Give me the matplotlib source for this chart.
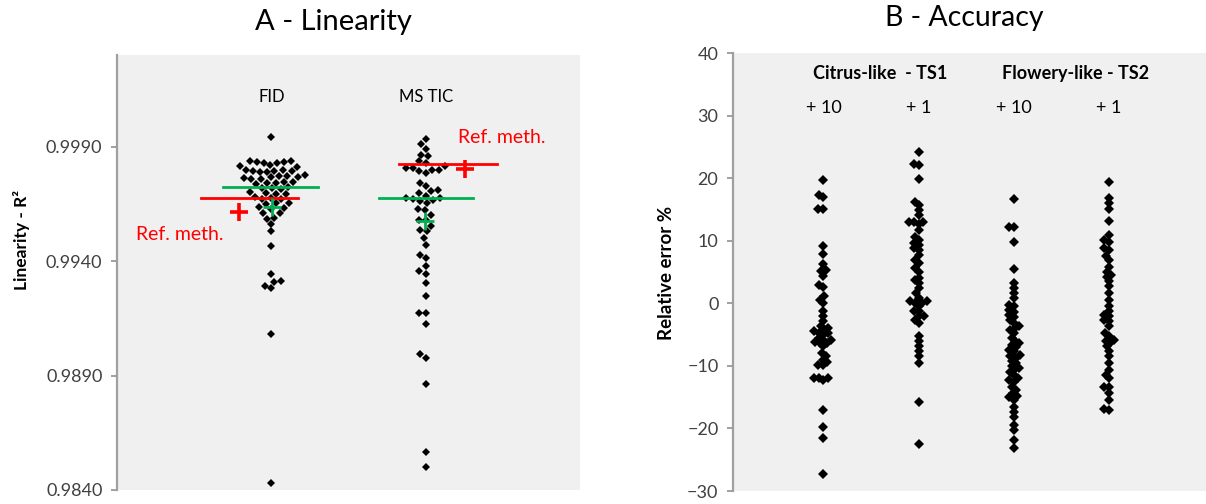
import numpy as np
import matplotlib
matplotlib.use('Agg')
import matplotlib.pyplot as plt

plt.rcParams['font.family'] = ['Lato', 'DejaVu Sans']

# --- data: panel A (linearity R2) ---
fid_r2 = [0.99941,
          0.99838, 0.99836, 0.99834, 0.99832, 0.99830, 0.99828,
          0.99818, 0.99815, 0.99812,
          0.99797, 0.99796, 0.99794, 0.99793, 0.99792, 0.99790, 0.99788,
          0.99775, 0.99772, 0.99770, 0.99766, 0.99765, 0.99762, 0.99760, 0.99758,
          0.99745, 0.99744, 0.99742, 0.99740, 0.99738,
          0.99722, 0.99720, 0.99718, 0.99716,
          0.99700, 0.99698, 0.99695, 0.99692,
          0.99678, 0.99675, 0.99672, 0.99670,
          0.99655, 0.99652, 0.99650,
          0.99635, 0.99632, 0.99628,
          0.99612, 0.99608,
          0.99590, 0.99585,
          0.99562, 0.99530, 0.99464,
          0.99342, 0.99315, 0.99310, 0.99290, 0.99282,
          0.99082, 0.98431]
mstic_r2 = [0.99934, 0.99913, 0.99890, 0.99865, 0.99858,
            0.99836, 0.99829, 0.99814, 0.99807, 0.99807, 0.99799, 0.99799, 0.99792, 0.99785,
            0.99741, 0.99726, 0.99712, 0.99705,
            0.99698, 0.99686, 0.99676, 0.99676, 0.99671, 0.99668, 0.99661, 0.99654,
            0.99627, 0.99624, 0.99603, 0.99581, 0.99581,
            0.99552, 0.99537, 0.99530, 0.99501, 0.99471,
            0.99428, 0.99413, 0.99377, 0.99355, 0.99345,
            0.99304, 0.99248, 0.99173, 0.99173, 0.99126,
            0.98995, 0.98976, 0.98865, 0.98567, 0.98502]
a_groups = ['FID', 'MS TIC']
a_green_line = [0.99725, 0.99677]   # green horizontal bars
a_red_line = [0.99677, 0.99826]     # red horizontal bars (Ref. meth.)
a_green_plus = [0.99638, 0.99576]
a_red_plus = [0.99616, 0.99800]

# --- data: panel B (relative error %) ---
citrus_10 = [19.7, 17.3, 17.0, 15.0, 15.0, 9.2, 7.9, 6.3, 5.3, 5.1, 4.4, 2.9, 2.6,
             1.1, 0.6, 0.0, -1.3, -2.1, -2.9, -3.6, -4.0, -4.3, -4.5, -4.7, -4.8,
             -5.1, -5.5, -5.9, -5.9, -6.2, -6.4, -6.4, -6.9, -8.0, -8.5, -9.1, -9.4,
             -9.9, -9.9, -12.0, -12.0, -12.0, -12.2, -17.0, -19.7, -21.5, -27.3]
citrus_1 = [24.2, 22.3, 22.1, 19.8, 16.2, 15.7, 14.9, 14.1, 13.0, 13.0, 13.0, 12.6,
            11.7, 10.6, 10.1, 9.6, 9.3, 8.8, 8.5, 7.7, 6.9, 6.4, 5.6, 5.0,
            4.0, 3.7, 3.2, 2.4, 1.6, 0.9, 0.3, 0.3, 0.0, 0.0, -0.5,
            -1.3, -1.3, -2.1, -2.1, -2.7, -3.2, -5.3, -6.1, -6.9, -7.7, -8.5, -9.6,
            -15.7, -22.5]
flowery_10 = [16.6, 12.2, 12.2, 9.8, 5.4, 3.2, 2.4, 1.6, 0.8, -0.3, -0.5, -1.1,
              -1.9, -2.7, -3.7, -4.0, -4.8, -6.1, -6.7, -7.5, -7.7, -8.3, -8.5, -8.8,
              -9.6, -10.4, -10.7, -11.5, -12.3, -12.5, -13.3, -14.4, -15.0, -15.4,
              -16.5, -18.1, -19.4, -20.2, -21.8, -23.2,
              -2.2, -5.5, -7.0, -9.2, -10.0, -11.0, -12.0, -13.8, -14.8, -6.4, -4.3,
              -1.4, -3.2, -17.3]
flowery_1 = [19.4, 16.8, 16.0, 15.0, 13.2, 10.9, 10.1, 8.8, 8.5, 6.9, 5.8, 5.0, 4.2,
             3.5, 2.7, 1.6, 0.5, -0.5, -1.3, -2.1, -2.7, -2.9, -3.7, -4.8, -5.3,
             -6.1, -6.4, -6.9, -8.5, -9.6, -10.7, -12.0, -13.3, -13.3, -14.4, -15.4,
             -17.0, -16.9, 9.8, 7.5, 4.6, -1.8, -5.8, -7.6, -11.4]
b_series = [citrus_10, citrus_1, flowery_10, flowery_1]
b_spikes = ['+ 10', '+ 1', '+ 10', '+ 1']
b_families = ['Citrus-like  - TS1', 'Flowery-like - TS2']

bg = '#f0f0f0'
axis_col = '#a0a0a0'
tick_col = '#404040'


def swarm(values, px_per_y, px_per_x, d=7.0):
    # simple beeswarm: place each point at the smallest offset without overlap
    ys = np.asarray(values) * px_per_y
    order = np.argsort(ys)
    placed = []
    xs = np.zeros(len(ys))
    for i in order:
        y = ys[i]
        near = [(px, py) for px, py in placed if abs(py - y) < d]
        cands = [0.0]
        for px, py in near:
            dx = np.sqrt(d * d - (py - y) ** 2)
            cands += [px + dx, px - dx]
        cands.sort(key=lambda c: (round(abs(c), 3), c))
        for c in cands:
            if all((c - px) ** 2 + (y - py) ** 2 >= d * d - 1e-6 for px, py in near):
                break
        xs[i] = c
        placed.append((c, y))
    return xs / px_per_x


def style_axis(ax):
    ax.set_facecolor(bg)
    for s in ['top', 'right', 'bottom']:
        ax.spines[s].set_visible(False)
    ax.spines['left'].set_color(axis_col)
    ax.spines['left'].set_linewidth(1.6)
    ax.tick_params(axis='y', direction='out', length=4.5, width=1.4, color=axis_col,
                   labelcolor=tick_col, labelsize=13, pad=6)
    ax.set_xticks([])


fig = plt.figure(figsize=(12.06, 5.04), dpi=100)

# ---------------- Panel A ----------------
axA = fig.add_axes([117 / 1206, 14 / 504, 463 / 1206, 435 / 504])
style_axis(axA)
a_ylim = (0.9840, 1.0030)
axA.set_xlim(0, 3)
axA.set_ylim(*a_ylim)
axA.set_yticks([0.9840, 0.9890, 0.9940, 0.9990])
axA.yaxis.set_major_formatter(matplotlib.ticker.FormatStrFormatter('%.4f'))

pyA = 435 / (a_ylim[1] - a_ylim[0])
pxA = 463 / 3
for i, vals in enumerate([fid_r2, mstic_r2]):
    xpos = i + 1 + swarm(vals, pyA, pxA, d=7.0)
    axA.plot(xpos, vals, 'D', color='black', ms=4.3, mew=0, zorder=3)
    axA.text(i + 1, 0.903, a_groups[i], transform=axA.get_xaxis_transform(),
             ha='center', va='center', fontsize=12, color='black')

# horizontal bars and crosses
axA.plot([0.687, 1.303], [a_green_line[0]] * 2, color='#00b050', lw=2, zorder=4)
axA.plot([0.544, 1.173], [a_red_line[0]] * 2, color='#ff0000', lw=2, zorder=4)
axA.plot([1.828, 2.463], [a_red_line[1]] * 2, color='#ff0000', lw=2, zorder=4)
axA.plot([1.698, 2.307], [a_green_line[1]] * 2, color='#00b050', lw=2, zorder=4)
axA.plot([1.005, 1.996], a_green_plus, '+', color='#00b050', ms=13, mew=2, ls='none', zorder=5)
axA.plot([0.79, 2.255], a_red_plus, '+', color='#ff0000', ms=13, mew=2.6, ls='none', zorder=5)
axA.text(0.69, 0.99515, 'Ref. meth.', color='#ff0000', fontsize=14, ha='right', va='center')
axA.text(2.21, 0.99939, 'Ref. meth.', color='#ff0000', fontsize=14, ha='left', va='center')

fig.text(333 / 1206, 1 - 22 / 504, 'A - Linearity', ha='center', va='center', fontsize=21)
fig.text(22 / 1206, 1 - 240 / 504, 'Linearity - R²', rotation=90, ha='center', va='center',
         fontsize=12.5, fontweight='bold')

# ---------------- Panel B ----------------
axB = fig.add_axes([733 / 1206, 13 / 504, 473 / 1206, 438 / 504])
style_axis(axB)
b_xlim = (0.05, 5.02)
axB.set_xlim(*b_xlim)
axB.set_ylim(-30, 40)
axB.set_yticks(range(-30, 41, 10))

pyB = 438 / 70
pxB = 473 / (b_xlim[1] - b_xlim[0])
for i, vals in enumerate(b_series):
    xpos = i + 1 + swarm(vals, pyB, pxB, d=5.0)
    axB.plot(xpos, vals, 'D', color='black', ms=5.4, mew=0, zorder=3)
    axB.text(i + 1, 0.874, b_spikes[i], transform=axB.get_xaxis_transform(),
             ha='center', va='center', fontsize=13)

axB.text(1.6, 0.954, b_families[0], transform=axB.get_xaxis_transform(),
         ha='center', va='center', fontsize=13, fontweight='bold')
axB.text(3.65, 0.954, b_families[1], transform=axB.get_xaxis_transform(),
         ha='center', va='center', fontsize=13, fontweight='bold')

fig.text(964 / 1206, 1 - 18 / 504, 'B - Accuracy', ha='center', va='center', fontsize=20.5)
fig.text(667 / 1206, 1 - 273 / 504, 'Relative error %', rotation=90, ha='center', va='center',
         fontsize=13.5, fontweight='bold')

fig.savefig('out.png', dpi=100, facecolor='white')
